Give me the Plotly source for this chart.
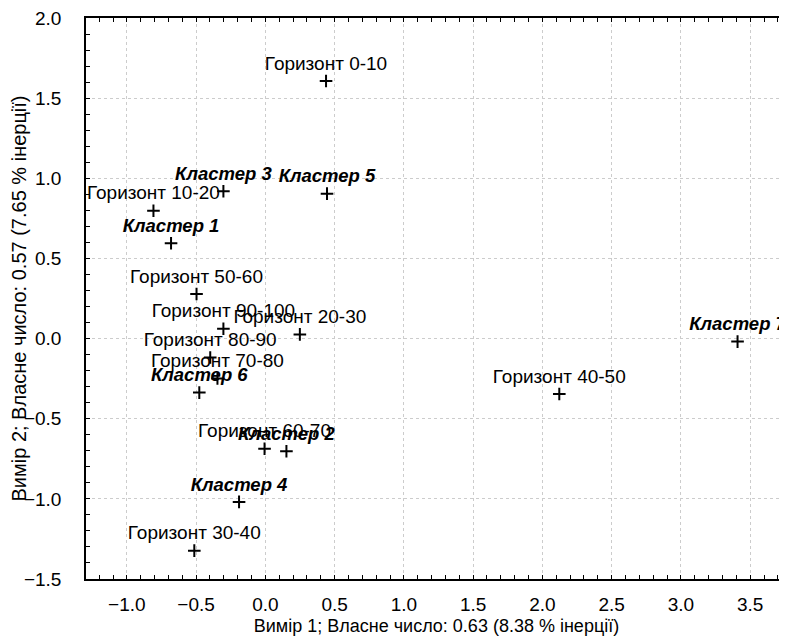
import plotly.graph_objects as go

horizon_labels = ["Горизонт 0-10", "Горизонт 10-20", "Горизонт 20-30", "Горизонт 30-40",
                  "Горизонт 40-50", "Горизонт 50-60", "Горизонт 60-70", "Горизонт 70-80",
                  "Горизонт 80-90", "Горизонт 90-100"]
horizon_x = [0.438, -0.808, 0.249, -0.513, 2.122, -0.497, -0.006, -0.346, -0.398, -0.303]
horizon_y = [1.607, 0.797, 0.026, -1.323, -0.346, 0.278, -0.687, -0.249, -0.118, 0.061]

cluster_labels = ["Кластер 1", "Кластер 2", "Кластер 3", "Кластер 4",
                  "Кластер 5", "Кластер 6", "Кластер 7"]
cluster_x = [-0.681, 0.152, -0.303, -0.190, 0.445, -0.477, 3.409]
cluster_y = [0.595, -0.703, 0.919, -1.019, 0.904, -0.337, -0.019]

x_title = "Вимір 1; Власне число: 0.63 (8.38 % інерції)"
y_title = "Вимір 2; Власне число: 0.57 (7.65 % інерції)"

FONT = "Liberation Sans, Arial, sans-serif"
marker = dict(symbol="cross-thin", size=9, line=dict(color="black", width=2), color="black")

fig = go.Figure()
fig.add_trace(go.Scatter(
    x=horizon_x, y=horizon_y, text=horizon_labels, mode="markers+text",
    textposition="top center", marker=marker, cliponaxis=False,
    textfont=dict(family=FONT, size=19, color="black"), showlegend=False))
fig.add_trace(go.Scatter(
    x=cluster_x, y=cluster_y, text=cluster_labels, mode="markers+text",
    textposition="top center", marker=marker, cliponaxis=False,
    textfont=dict(family=FONT, size=18.5, color="black", weight="bold", style="italic"),
    showlegend=False))

axis_common = dict(
    showline=True, linecolor="black", linewidth=1.5,
    ticks="inside", ticklen=4, tickcolor="black", tickwidth=1,
    showgrid=True, gridcolor="#cccccc", griddash="dot", gridwidth=1,
    zeroline=False, tickformat=".1f", dtick=0.5, tick0=0,
    tickfont=dict(family=FONT, size=19, color="black"),
    ticklabeloverflow="allow",
    minor=dict(dtick=0.1, ticks="inside", ticklen=4, tickcolor="black", showgrid=False),
)

fig.update_xaxes(range=[-1.295, 3.766], mirror="ticks", ticklabelstandoff=7,
                 title=dict(text=x_title, font=dict(family=FONT, size=18, color="black"), standoff=9),
                 **axis_common)
fig.update_yaxes(range=[-1.5, 2.0], mirror=False, ticklabelstandoff=19,
                 title=dict(text=y_title, font=dict(family=FONT, size=20, color="black"), standoff=2),
                 **axis_common)

fig.update_layout(
    width=779, height=628,
    margin=dict(l=75, r=0, t=10, b=53),
    plot_bgcolor="white", paper_bgcolor="white",
    font=dict(family=FONT, size=19, color="black"),
)

fig.write_html("out.html")
